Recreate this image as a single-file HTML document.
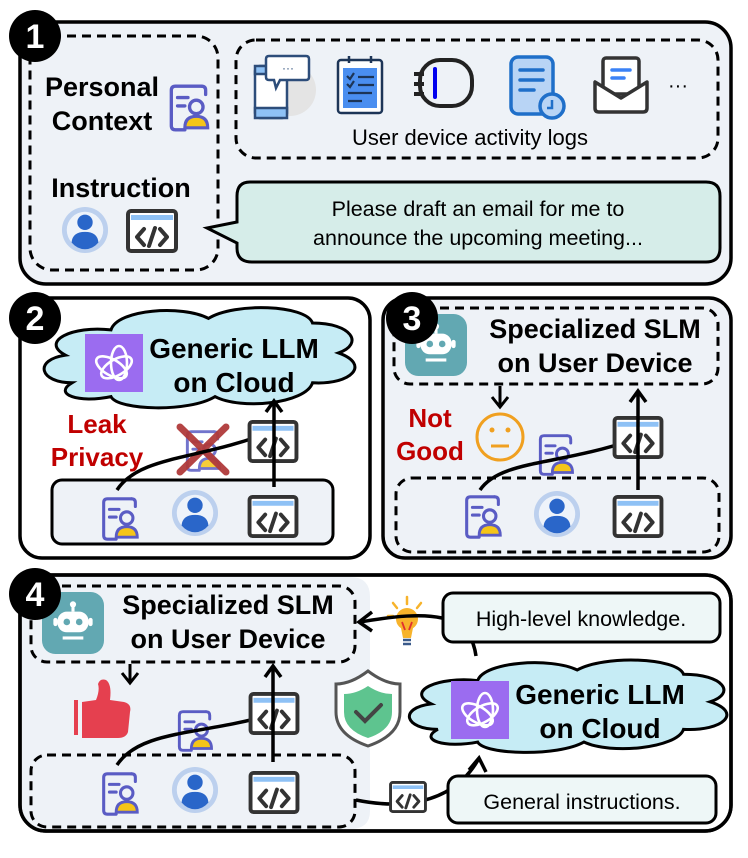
<!DOCTYPE html>
<html><head><meta charset="utf-8"><style>
html,body{margin:0;padding:0;background:#fff}
svg{display:block}
text{font-family:"Liberation Sans",Arial,sans-serif}
.b{font-weight:bold}
</style></head><body>
<svg width="748" height="858" viewBox="0 0 748 858" xmlns="http://www.w3.org/2000/svg">
<defs>
<symbol id="card" viewBox="0 0 40 50">
 <path d="M32 4 H7 Q3 4 3 8 V42 Q3 46 7 46 H16" fill="none" stroke="#5a5cc4" stroke-width="3.2" stroke-linecap="round"/>
 <path d="M32 4 Q36 4 36 8 V12" fill="none" stroke="#5a5cc4" stroke-width="3.2" stroke-linecap="round"/>
 <path d="M9 15 H19 M9 23 H16" stroke="#5a5cc4" stroke-width="3.2" stroke-linecap="round"/>
 <circle cx="27" cy="24" r="6.5" fill="none" stroke="#5a5cc4" stroke-width="3.2"/>
 <path d="M16 44 Q16 33 27 33 Q38 33 38 44 Z" fill="#f5c518" stroke="#5a5cc4" stroke-width="3"/>
</symbol>
<symbol id="pc" viewBox="0 0 50 50">
 <circle cx="25" cy="25" r="24" fill="#bcd0ee"/>
 <circle cx="25" cy="25" r="19" fill="#eef3fa"/>
 <circle cx="25" cy="17" r="8" fill="#2a66c9"/>
 <path d="M11 38 Q12 27 25 27 Q38 27 39 38 Q33 45 25 45 Q17 45 11 38Z" fill="#2a66c9"/>
</symbol>
<symbol id="code" viewBox="0 0 52 44">
 <rect x="2" y="2" width="48" height="40" rx="3" fill="#fff" stroke="#333" stroke-width="4"/>
 <rect x="5" y="6" width="42" height="5" fill="#8ec1f5"/>
 <path d="M18 20 L11 28 L18 36 M34 20 L41 28 L34 36 M29 19 L23 37" fill="none" stroke="#333" stroke-width="4" stroke-linecap="round" stroke-linejoin="round"/>
</symbol>
<symbol id="robot" viewBox="0 0 60 60">
 <rect x="0" y="0" width="60" height="60" rx="13" fill="#62a8b2"/>
 <path d="M30 13 V19" stroke="#fff" stroke-width="3"/><circle cx="30" cy="12" r="3" fill="#fff"/>
 <rect x="15" y="19" width="30" height="20" rx="9" fill="#fff"/>
 <rect x="11" y="25" width="4" height="8" rx="2" fill="#fff"/><rect x="45" y="25" width="4" height="8" rx="2" fill="#fff"/>
 <circle cx="24" cy="29" r="3.2" fill="#62a8b2"/><circle cx="36" cy="29" r="3.2" fill="#62a8b2"/>
 <rect x="20" y="43" width="20" height="3" fill="#fff"/>
</symbol>
<symbol id="oai" viewBox="0 0 58 58">
 <rect width="58" height="58" fill="#9b6cf0"/>
 <g fill="none" stroke="#fff" stroke-width="2.6" transform="translate(29 29)">
  <ellipse rx="8" ry="17" transform="rotate(0) translate(5 0)"/>
  <ellipse rx="8" ry="17" transform="rotate(60) translate(5 0)"/>
  <ellipse rx="8" ry="17" transform="rotate(120) translate(5 0)"/>
 </g>
</symbol>
<symbol id="cloud" viewBox="0 0 100 100" preserveAspectRatio="none">
 <path vector-effect="non-scaling-stroke" d="M12,72 C2,72 0,52 10,48 C2,36 12,22 24,26 C26,8 46,4 54,16 C62,2 84,4 86,20 C98,20 102,38 94,46 C104,56 98,74 86,72 C84,90 64,96 56,84 C48,98 26,96 24,84 C14,90 6,82 12,72 Z" fill="#c6ecf5" stroke="#000" stroke-width="3"/>
</symbol>
</defs>

<!-- Panel 1 -->
<rect x="20" y="22" width="711" height="262" rx="26" fill="#eef2f7" stroke="#000" stroke-width="3.5"/>
<rect x="30" y="36" width="188" height="234" rx="22" fill="none" stroke="#000" stroke-width="3" stroke-dasharray="9 6"/>
<rect x="236" y="40" width="482" height="118" rx="20" fill="none" stroke="#000" stroke-width="3" stroke-dasharray="9 6"/>
<text x="102" y="96" class="b" font-size="27" text-anchor="middle">Personal</text>
<text x="102" y="130" class="b" font-size="27" text-anchor="middle">Context</text>
<use href="#card" x="168" y="82" width="42" height="52"/>
<text x="121" y="197" class="b" font-size="27" text-anchor="middle">Instruction</text>
<use href="#pc" x="61" y="206" width="48" height="48"/>
<use href="#code" x="126" y="209" width="52" height="44"/>
<!-- activity icons -->
<circle cx="290" cy="90" r="26" fill="#e4e4e4"/>
<rect x="255" y="66" width="32" height="52" rx="5" fill="#fff" stroke="#2d4d7a" stroke-width="2.5"/>
<rect x="255" y="66" width="32" height="8" fill="#8ec1f5" stroke="#2d4d7a" stroke-width="2.5"/>
<rect x="255" y="108" width="32" height="10" fill="#8ec1f5" stroke="#2d4d7a" stroke-width="2.5"/>
<path d="M269 56 H306 Q309 56 309 59 V77 Q309 80 306 80 H280 L276 88 L274 80 H269 Q266 80 266 77 V59 Q266 56 269 56Z" fill="#fff" stroke="#2d4d7a" stroke-width="2.5"/>
<text x="288" y="72" font-size="12" text-anchor="middle" fill="#2d4d7a">···</text>
<rect x="338" y="60" width="44" height="53" rx="3" fill="#fff" stroke="#1d3557" stroke-width="2.5"/>
<rect x="343" y="68" width="34" height="40" fill="#4a8ef0"/>
<path d="M349 56 V63 M371 56 V63" stroke="#1d3557" stroke-width="2.5"/>
<path d="M347 76 L350 79 L354 73 M358 77 H374 M347 84 L350 87 L354 81 M358 85 H374 M348 93 H372 M348 101 H362" fill="none" stroke="#1d3557" stroke-width="2.2"/>
<rect x="420" y="60" width="52" height="46" rx="20" fill="none" stroke="#222" stroke-width="4"/>
<path d="M414 74 H424 M414 84 H424 M414 94 H424" stroke="#222" stroke-width="4"/>
<path d="M435 69 V97" stroke="#0000ee" stroke-width="4" stroke-linecap="round"/>
<rect x="511" y="57" width="42" height="57" rx="7" fill="#b8d4f5" stroke="#1f6fc9" stroke-width="3.5"/>
<path d="M520 70 H543 M520 80 H543 M520 90 H534" stroke="#1f6fc9" stroke-width="3.5" stroke-linecap="round"/>
<circle cx="552" cy="106" r="12" fill="#b8d4f5" stroke="#1f6fc9" stroke-width="3.5"/>
<path d="M552 100 V108 H547" fill="none" stroke="#1f6fc9" stroke-width="2.5"/>
<rect x="603" y="58" width="36" height="36" rx="3" fill="#fff" stroke="#333" stroke-width="3.5"/>
<path d="M612 70 H630 M612 78 H624" stroke="#3b82f6" stroke-width="3.5" stroke-linecap="round"/>
<path d="M595 82 V108 Q595 112 599 112 H643 Q647 112 647 108 V82 L621 98 Z" fill="#fff" stroke="#333" stroke-width="3.5" stroke-linejoin="round"/>
<text x="678" y="92" font-size="20" text-anchor="middle">···</text>
<text x="470" y="145" font-size="22" text-anchor="middle">User device activity logs</text>
<!-- bubble -->
<path d="M250 182 H706 Q720 182 720 196 V248 Q720 262 706 262 H252 Q237 262 237 248 V243 L207 228 L237 222 V196 Q237 182 250 182Z" fill="#d6ede9" stroke="#000" stroke-width="3"/>
<text x="478" y="216" font-size="21.5" text-anchor="middle">Please draft an email for me to</text>
<text x="478" y="245" font-size="21.5" text-anchor="middle">announce the upcoming meeting...</text>
<circle cx="35" cy="36" r="26" fill="#000"/>
<text x="35" y="48" class="b" font-size="34" fill="#fff" text-anchor="middle">1</text>

<!-- Panel 2 -->
<rect x="20" y="298" width="350" height="260" rx="22" fill="#fff" stroke="#000" stroke-width="3.5"/>
<use href="#cloud" x="33" y="300" width="325" height="115"/>
<use href="#oai" x="85" y="334" width="58" height="58"/>
<text x="234" y="358" class="b" font-size="28" text-anchor="middle">Generic LLM</text>
<text x="234" y="392" class="b" font-size="28" text-anchor="middle">on Cloud</text>
<text x="97" y="433" class="b" font-size="26" fill="#c00000" text-anchor="middle">Leak</text>
<text x="97" y="466" class="b" font-size="26" fill="#c00000" text-anchor="middle">Privacy</text>
<rect x="52" y="480" width="281" height="64" rx="10" fill="#eef2f7" stroke="#000" stroke-width="3"/>
<g opacity="0.85"><use href="#card" x="184" y="428" width="38" height="46"/></g>
<path d="M180 427 L226 472 M226 427 L180 472" stroke="#b03a3a" stroke-width="7" stroke-linecap="round" opacity="0.95"/>
<path d="M117 490 C140 455 200 460 270 432" fill="none" stroke="#000" stroke-width="3.5"/>
<use href="#code" x="247" y="420" width="52" height="43"/>
<path d="M274 487 V402 M266 412 L274 401 L282 412" fill="none" stroke="#000" stroke-width="3.5"/>
<use href="#card" x="100" y="495" width="40" height="48"/>
<use href="#pc" x="171" y="489" width="48" height="48"/>
<use href="#code" x="247" y="495" width="52" height="43"/>
<circle cx="35" cy="318" r="26" fill="#000"/>
<text x="35" y="330" class="b" font-size="34" fill="#fff" text-anchor="middle">2</text>

<!-- Panel 3 -->
<rect x="383" y="298" width="348" height="260" rx="22" fill="#eef2f7" stroke="#000" stroke-width="3.5"/>
<rect x="394" y="308" width="324" height="76" rx="16" fill="none" stroke="#000" stroke-width="3" stroke-dasharray="9 6"/>
<use href="#robot" x="405" y="314" width="62" height="62"/>
<text x="595" y="338" class="b" font-size="27" text-anchor="middle">Specialized SLM</text>
<text x="595" y="372" class="b" font-size="27" text-anchor="middle">on User Device</text>
<path d="M500 386 V406 M492 397 L500 407 L508 397" fill="none" stroke="#000" stroke-width="3"/>
<text x="430" y="427" class="b" font-size="26" fill="#c00000" text-anchor="middle">Not</text>
<text x="430" y="460" class="b" font-size="26" fill="#c00000" text-anchor="middle">Good</text>
<circle cx="500" cy="437" r="23" fill="none" stroke="#f0a020" stroke-width="3"/>
<circle cx="492" cy="430" r="2.5" fill="#f0a020"/><circle cx="508" cy="430" r="2.5" fill="#f0a020"/>
<path d="M491 446 H509" stroke="#f0a020" stroke-width="3"/>
<rect x="396" y="478" width="323" height="74" rx="16" fill="none" stroke="#000" stroke-width="3" stroke-dasharray="9 6"/>
<use href="#card" x="537" y="432" width="38" height="46"/>
<path d="M480 490 C500 460 560 465 632 440" fill="none" stroke="#000" stroke-width="3.5"/>
<use href="#code" x="612" y="416" width="52" height="43"/>
<path d="M638 490 V392 M630 402 L638 391 L646 402" fill="none" stroke="#000" stroke-width="3.5"/>
<use href="#card" x="463" y="493" width="40" height="48"/>
<use href="#pc" x="533" y="490" width="48" height="48"/>
<use href="#code" x="612" y="495" width="52" height="43"/>
<circle cx="412" cy="318" r="26" fill="#000"/>
<text x="412" y="330" class="b" font-size="34" fill="#fff" text-anchor="middle">3</text>

<!-- Panel 4 -->
<rect x="20" y="575" width="711" height="256" rx="26" fill="#fff" stroke="#000" stroke-width="3.5"/>
<path d="M22 577 H350 Q370 577 370 597 V811 Q370 829 350 829 H46 Q22 829 22 805 Z" fill="#eef2f7"/>
<rect x="20" y="575" width="711" height="256" rx="26" fill="none" stroke="#000" stroke-width="3.5"/>
<rect x="31" y="586" width="324" height="76" rx="16" fill="none" stroke="#000" stroke-width="3" stroke-dasharray="9 6"/>
<use href="#robot" x="42" y="592" width="62" height="62"/>
<text x="228" y="614" class="b" font-size="27" text-anchor="middle">Specialized SLM</text>
<text x="228" y="648" class="b" font-size="27" text-anchor="middle">on User Device</text>
<path d="M130 664 V682 M122 673 L130 683 L138 673" fill="none" stroke="#000" stroke-width="3"/>
<path d="M74 700 H78 V735 H74 Z" fill="#e5404f"/>
<path d="M82 702 L96 700 Q100 690 98 684 Q100 678 106 680 Q112 684 110 700 L124 702 Q132 704 130 712 L128 732 Q126 738 118 738 H82 Z" fill="#e5404f"/>
<rect x="31" y="755" width="324" height="72" rx="16" fill="none" stroke="#000" stroke-width="3" stroke-dasharray="9 6"/>
<use href="#card" x="175" y="708" width="40" height="46"/>
<path d="M117 765 C140 730 200 735 270 715" fill="none" stroke="#000" stroke-width="3.5"/>
<use href="#code" x="248" y="692" width="52" height="43"/>
<path d="M273 762 V667 M265 677 L273 666 L281 677" fill="none" stroke="#000" stroke-width="3.5"/>
<use href="#card" x="100" y="770" width="40" height="48"/>
<use href="#pc" x="171" y="766" width="48" height="48"/>
<use href="#code" x="248" y="771" width="52" height="43"/>
<!-- shield -->
<path d="M368 671 Q385 684 400 684 V712 Q400 735 368 746 Q336 735 336 712 V684 Q351 684 368 671Z" fill="#fff" stroke="#555" stroke-width="3"/>
<path d="M368 686 Q380 694 392 694 V712 Q392 730 368 738 Q344 730 344 712 V694 Q356 694 368 686Z" fill="#5ec48f"/>
<path d="M356 712 L365 721 L381 705" fill="none" stroke="#444" stroke-width="4" stroke-linecap="round"/>
<!-- cloud 4 -->
<use href="#cloud" x="398" y="653" width="332" height="106"/>
<use href="#oai" x="451" y="681" width="58" height="58"/>
<text x="600" y="704" class="b" font-size="28" text-anchor="middle">Generic LLM</text>
<text x="600" y="738" class="b" font-size="28" text-anchor="middle">on Cloud</text>
<!-- bulb -->
<circle cx="407" cy="619" r="11" fill="#f7b32b"/>
<path d="M401 628 H413 L411 638 H403 Z" fill="#f7b32b"/>
<path d="M403 640 H411 M403 644 H411" stroke="#3a5a8a" stroke-width="2.5"/>
<path d="M402 622 L405 630 M412 622 L409 630" stroke="#e03030" stroke-width="1.8"/>
<path d="M393 603 L397 608 M407 597 V604 M421 603 L417 608 M388 616 H393" stroke="#f7b32b" stroke-width="2.5" stroke-linecap="round"/>
<path d="M476 656 C470 612 430 610 360 622" fill="none" stroke="#000" stroke-width="3.5"/>
<path d="M372 612 L359 622 L372 631" fill="none" stroke="#000" stroke-width="3.5"/>
<rect x="443" y="593" width="277" height="49" rx="10" fill="#eef7f7" stroke="#000" stroke-width="3"/>
<text x="581" y="626" font-size="21.5" text-anchor="middle">High-level knowledge.</text>
<path d="M356 800 C395 808 450 808 478 760" fill="none" stroke="#000" stroke-width="3.5"/>
<path d="M469 770 L479 758 L486 772" fill="none" stroke="#000" stroke-width="3.5"/>
<use href="#code" x="388" y="781" width="40" height="32"/>
<rect x="448" y="776" width="268" height="47" rx="10" fill="#eef7f7" stroke="#000" stroke-width="3"/>
<text x="582" y="809" font-size="21.5" text-anchor="middle">General instructions.</text>
<circle cx="35" cy="594" r="26" fill="#000"/>
<text x="35" y="606" class="b" font-size="34" fill="#fff" text-anchor="middle">4</text>
</svg>
</body></html>
